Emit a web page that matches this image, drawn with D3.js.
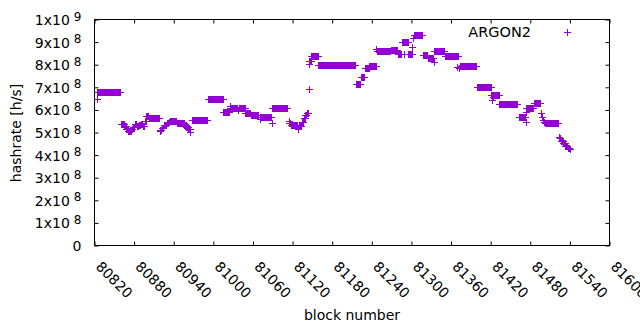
<!DOCTYPE html>
<head>
    <meta charset="utf-8">
    <script src="https://d3js.org/d3.v7.min.js"></script>
    <style>
        body { margin: 0; background: #fff; }
        svg { display: block; font-family: "DejaVu Sans", sans-serif; }
    </style>
</head>

<body>
    <svg width="640" height="330"></svg>

    <script>
        // hashrate values are in units of 1e8 h/s
        // blocks that share one value: [first block, last block, hashrate]
        const runs = [
            [80824, 80860, 6.79], [80861, 80865, 5.34], [80866, 80868, 5.25], [80869, 80871, 5.14],
            [80872, 80876, 5.06], [80877, 80878, 5.15], [80879, 80881, 5.24], [80882, 80884, 5.36],
            [80885, 80887, 5.25], [80888, 80890, 5.32], [80891, 80893, 5.36], [80894, 80896, 5.27],
            [80897, 80898, 5.5], [80899, 80902, 5.72], [80903, 80918, 5.6], [80920, 80922, 5.08],
            [80923, 80925, 5.16], [80926, 80929, 5.3], [80930, 80932, 5.38], [80933, 80934, 5.46],
            [80935, 80944, 5.5], [80945, 80956, 5.38], [80957, 80959, 5.3], [80960, 80962, 5.22],
            [80963, 80965, 5.14], [80968, 80991, 5.51], [80992, 81015, 6.45], [81016, 81024, 5.87],
            [81026, 81037, 6.05], [81039, 81048, 6.06], [81049, 81057, 5.84], [81058, 81069, 5.74],
            [81072, 81088, 5.68], [81089, 81113, 6.05], [81116, 81117, 5.4], [81118, 81128, 5.31],
            [81130, 81134, 5.28], [81135, 81137, 5.45], [81138, 81139, 5.6], [81140, 81141, 5.75],
            [81142, 81144, 5.86], [81146, 81148, 8.15], [81149, 81159, 8.35], [81160, 81216, 7.96],
            [81217, 81223, 7.12], [81224, 81229, 7.45], [81230, 81236, 7.82], [81237, 81247, 7.92],
            [81248, 81269, 8.57], [81270, 81279, 8.62], [81280, 81285, 8.45], [81286, 81296, 9.0],
            [81295, 81301, 8.45], [81305, 81317, 9.3], [81318, 81325, 8.41], [81326, 81334, 8.27],
            [81335, 81350, 8.57], [81351, 81372, 8.35], [81374, 81399, 7.9], [81400, 81421, 6.98],
            [81422, 81433, 6.64], [81434, 81461, 6.23], [81463, 81473, 5.65], [81475, 81485, 6.05],
            [81486, 81495, 6.3], [81501, 81502, 5.45], [81503, 81523, 5.38], [81528, 81530, 4.6],
            [81531, 81533, 4.5], [81534, 81537, 4.4], [81538, 81540, 4.28]
        ]
        // lone points: [block, hashrate]
        const singles = [
            [80824, 6.45], [80920, 5.04], [80966, 5.0], [81026, 6.17], [81038, 5.98], [81072, 5.56],
            [81089, 5.38], [81115, 5.47], [81129, 5.12], [81145, 6.89], [81145, 8.0], [81247, 8.68],
            [81290, 8.45], [81302, 8.77], [81303, 9.14], [81335, 8.11], [81370, 7.89], [81373, 7.82],
            [81423, 6.42], [81425, 6.53], [81474, 5.46], [81474, 5.9], [81497, 5.83], [81498, 5.68],
            [81500, 5.53], [81525, 4.79], [81526, 4.72], [81541, 4.23]
        ]

        const xTicks = [80820, 80880, 80940, 81000, 81060, 81120, 81180, 81240, 81300, 81360, 81420, 81480, 81540, 81600]
        const yTicks = [0, 1, 2, 3, 4, 5, 6, 7, 8, 9, 10]
        const yTickBase = ["0", "1x10", "2x10", "3x10", "4x10", "5x10", "6x10", "7x10", "8x10", "9x10", "1x10"]
        const yTickExp = ["", "8", "8", "8", "8", "8", "8", "8", "8", "8", "9"]
        const seriesName = "ARGON2"
        const color = "#9400d3"

        let svg = d3.select("svg")
        const mLeft = 94.5, mRight = 609.5, mTop = 19.5, mBottom = 245.5

        let x = d3.scaleLinear().domain([80820, 81600]).range([mLeft, mRight])
        let y = d3.scaleLinear().domain([0, 10]).range([mBottom, mTop])

        const plus = "M-3.5,0H3.5M0,-3.5V3.5"

        let points = []
        runs.forEach(r => {
            for (let b = r[0]; b <= r[1]; b++) points.push([b, r[2]])
        })
        singles.forEach(p => points.push(p))

        // axes, ticks point inwards on all four sides
        svg.append("g")
            .attr("transform", `translate(0,${mBottom})`)
            .call(d3.axisBottom(x).tickValues(xTicks).tickSize(-4).tickSizeOuter(0).tickFormat(d3.format("d")))
            .call(g => g.select(".domain").remove())
            .attr("font-family", null).attr("font-size", 14)
            .selectAll("text")
            .attr("y", 0).attr("dy", null)
            .attr("text-anchor", "start")
            .attr("fill", "#000")
            .attr("transform", "translate(0,22) rotate(45)")

        svg.append("g")
            .attr("transform", `translate(0,${mTop})`)
            .call(d3.axisTop(x).tickValues(xTicks).tickSize(-4).tickSizeOuter(0).tickFormat(""))
            .call(g => g.select(".domain").remove())

        svg.append("g")
            .attr("transform", `translate(${mLeft},0)`)
            .call(d3.axisLeft(y).tickValues(yTicks).tickSize(-4).tickSizeOuter(0).tickPadding(13))
            .call(g => g.select(".domain").remove())
            .attr("font-family", null).attr("font-size", 14)
            .selectAll(".tick text")
            .each(function (d, i) {
                let t = d3.select(this).text(null).attr("dy", "0.36em").attr("fill", "#000")
                t.append("tspan").text(yTickBase[i])
                if (yTickExp[i]) {
                    t.append("tspan").attr("dx", 4).attr("dy", -4.4).attr("font-size", 12).text(yTickExp[i])
                }
            })

        svg.append("g")
            .attr("transform", `translate(${mRight},0)`)
            .call(d3.axisRight(y).tickValues(yTicks).tickSize(-4).tickSizeOuter(0).tickFormat(""))
            .call(g => g.select(".domain").remove())

        svg.append("rect")
            .attr("x", mLeft).attr("y", mTop)
            .attr("width", mRight - mLeft).attr("height", mBottom - mTop)
            .attr("fill", "none").attr("stroke", "#000").attr("stroke-width", 1)

        // points
        svg.append("g")
            .attr("shape-rendering", "crispEdges")
            .selectAll("path")
            .data(points)
            .enter()
            .append("path")
            .attr("transform", d => `translate(${x(d[0])},${y(d[1])})`)
            .attr("d", plus)
            .attr("fill", "none")
            .attr("stroke", color)
            .attr("stroke-width", 1)

        // legend
        svg.append("text")
            .attr("x", 531).attr("y", 37)
            .attr("text-anchor", "end")
            .attr("font-size", 14.5)
            .text(seriesName)
        svg.append("path")
            .attr("transform", "translate(567,32.5)")
            .attr("d", plus)
            .attr("shape-rendering", "crispEdges")
            .attr("stroke", color)
            .attr("stroke-width", 1)

        // axis titles
        svg.append("text")
            .attr("x", (mLeft + mRight) / 2).attr("y", 320)
            .attr("text-anchor", "middle")
            .attr("font-size", 14)
            .text("block number")
        svg.append("text")
            .attr("transform", "translate(21,133) rotate(-90)")
            .attr("text-anchor", "middle")
            .attr("font-size", 14)
            .text("hashrate [h/s]")
    </script>
</body>
